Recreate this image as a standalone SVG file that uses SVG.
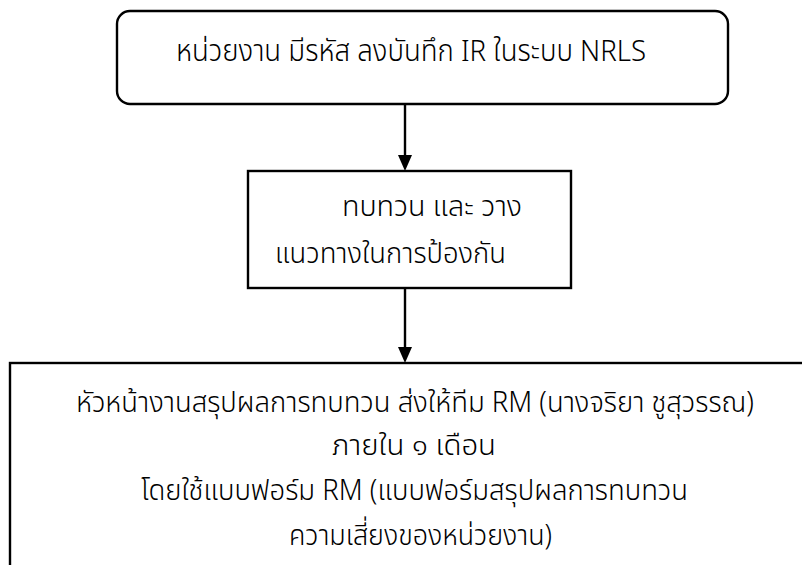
<svg xmlns="http://www.w3.org/2000/svg" width="802" height="565" viewBox="0 0 802 565">
<style>
.box{fill:#fff;stroke:#000;stroke-width:2.4}
.t{font-family:"Noto Sans Thai","Noto Sans","Liberation Sans",sans-serif;font-weight:300;fill:#000}
.conn{stroke:#000;stroke-width:2.4;fill:none}
.head{fill:#000}
</style>
<rect width="802" height="565" fill="#fff"/>
<g id="node1">
<rect class="box" x="117" y="11" width="611" height="93" rx="13"/>
<text class="t" x="176" y="61" font-size="30" textLength="470" lengthAdjust="spacingAndGlyphs">หน่วยงาน มีรหัส ลงบันทึก IR ในระบบ NRLS</text>
</g>
<g id="node2">
<rect class="box" x="248" y="171" width="323" height="117"/>
<text class="t" x="342" y="216" font-size="29" textLength="180" lengthAdjust="spacingAndGlyphs">ทบทวน และ วาง</text>
<text class="t" x="275" y="263" font-size="29" textLength="231" lengthAdjust="spacingAndGlyphs">แนวทางในการป้องกัน</text>
</g>
<g id="node3">
<rect class="box" x="10" y="363" width="800" height="220"/>
<text class="t" x="76" y="412" font-size="29" textLength="678" lengthAdjust="spacingAndGlyphs">หัวหน้างานสรุปผลการทบทวน ส่งให้ทีม RM (นางจริยา ชูสุวรรณ)</text>
<text class="t" x="332" y="455" font-size="29" textLength="164" lengthAdjust="spacingAndGlyphs">ภายใน ๑ เดือน</text>
<text class="t" x="141" y="500" font-size="29" textLength="547" lengthAdjust="spacingAndGlyphs">โดยใช้แบบฟอร์ม RM (แบบฟอร์มสรุปผลการทบทวน</text>
<text class="t" x="289" y="545" font-size="29" textLength="263" lengthAdjust="spacingAndGlyphs">ความเสี่ยงของหน่วยงาน)</text>
</g>
<g id="connectors">
<path class="conn" d="M405,104 V156"/>
<path class="head" d="M398,155 H412 L405,171 Z"/>
<path class="conn" d="M405,288 V348"/>
<path class="head" d="M398,347 H412 L405,363 Z"/>
</g>
</svg>
